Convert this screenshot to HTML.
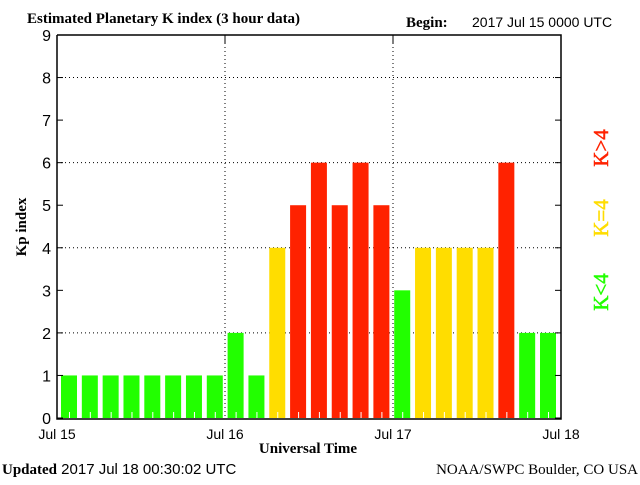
<!DOCTYPE html>
<html><head><meta charset="utf-8"><style>
body{margin:0;background:#fff;width:640px;height:480px;overflow:hidden}
svg text{font-family:"Liberation Sans",sans-serif}
.serif{font-family:"Liberation Serif",serif!important;font-weight:bold}
</style></head><body>
<svg id="chart" width="640" height="480" xmlns="http://www.w3.org/2000/svg">
<text class="serif" x="27" y="23" font-size="15">Estimated Planetary K index (3 hour data)</text>
<text class="serif" x="406" y="27" font-size="15">Begin:</text>
<text x="472" y="27" font-size="14">2017 Jul 15 0000 UTC</text>
<text class="serif" transform="translate(26,227) rotate(-90)" text-anchor="middle" font-size="15">Kp index</text>
<text class="serif" x="308" y="453" text-anchor="middle" font-size="15">Universal Time</text>
<text x="2" y="474" font-size="15"><tspan class="serif">Updated</tspan> 2017 Jul 18 00:30:02 UTC</text>
<text x="638" y="474" text-anchor="end" font-size="15" style="font-family:'Liberation Serif',serif">NOAA/SWPC Boulder, CO USA</text>
<g id="legend">
<text transform="translate(608,148) rotate(-90)" text-anchor="middle" font-size="21" fill="#ff2200" stroke="#ff2200" stroke-width="0.5" style="font-family:'Liberation Serif',serif">K&gt;4</text>
<text transform="translate(608,218) rotate(-90)" text-anchor="middle" font-size="21" fill="#ffdd00" stroke="#ffdd00" stroke-width="0.5" style="font-family:'Liberation Serif',serif">K=4</text>
<text transform="translate(608,292) rotate(-90)" text-anchor="middle" font-size="21" fill="#22ff00" stroke="#22ff00" stroke-width="0.5" style="font-family:'Liberation Serif',serif">K&lt;4</text>
</g>
<g id="plot"></g>
</svg>
<script>
const kpValues=[1,1,1,1,1,1,1,1,2,1,4,5,6,5,6,5,3,4,4,4,4,6,2,2];
const yTicks=[0,1,2,3,4,5,6,7,8,9];
const dayLabels=["Jul 15","Jul 16","Jul 17","Jul 18"];
const L=57,R=561,T=35,B=418,W=R-L;
const NS="http://www.w3.org/2000/svg";
const g=document.getElementById('plot');
const y=v=>B-(v/9)*(B-T);
const slot=(W-25)/(kpValues.length-1);
const x=i=>L+4+i*slot;
function mk(t,a){const e=document.createElementNS(NS,t);for(const k in a)e.setAttribute(k,a[k]);g.appendChild(e);return e;}
[2,4,6,8].forEach(v=>{const e=mk('line',{x1:L,x2:R,y1:y(v),y2:y(v),stroke:'#000','stroke-dasharray':'1,3'});

});
[1,2].forEach(d=>{const xx=L+d*W/3;const e=mk('line',{x1:xx,x2:xx,y1:T,y2:B,stroke:'#000','stroke-dasharray':'1,3'});

});
kpValues.forEach((v,i)=>{
const c=v>4?'#ff2200':(v==4?'#ffdd00':'#22ff00');
const r=mk('rect',{x:x(i),y:y(v),width:16,height:B-y(v),fill:c});


const t=mk('line',{x1:x(i)+8.5,x2:x(i)+8.5,y1:B-6,y2:B,stroke:'#fff'});


});
const ax=mk('path',{d:`M${L},${T}V${B+1}H${R}V${T}H${L}`,fill:'none',stroke:'#000','stroke-width':1.5});


yTicks.forEach(v=>{
const t=mk('text',{x:L-6,y:y(v)+6,'text-anchor':'end','font-size':16});t.textContent=v;


const a=mk('line',{x1:L,x2:L+6,y1:y(v),y2:y(v),stroke:'#000'});


const b=mk('line',{x1:R-6,x2:R,y1:y(v),y2:y(v),stroke:'#000'});


});
dayLabels.forEach((s,d)=>{
const xx=L+d*W/3;
const t=mk('text',{x:xx,y:439,'text-anchor':'middle','font-size':14});t.textContent=s;


const k=mk('line',{x1:xx,x2:xx,y1:T,y2:T+8,stroke:'#000'});


});
</script>
</body></html>
